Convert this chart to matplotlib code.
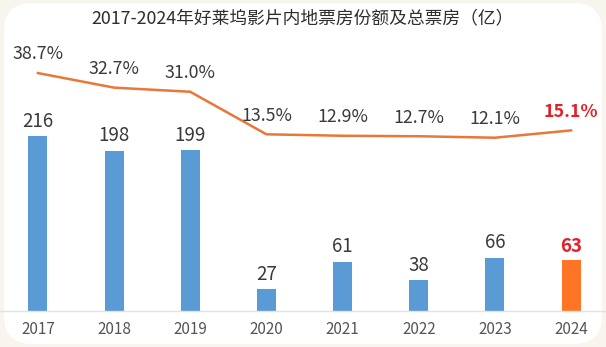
import matplotlib
matplotlib.use("Agg")
import matplotlib.pyplot as plt
from matplotlib.patches import FancyBboxPatch

plt.rcParams['font.family'] = ['Noto Sans CJK SC', 'DejaVu Sans']

years = ["2017", "2018", "2019", "2020", "2021", "2022", "2023", "2024"]
box_office = [216, 198, 199, 27, 61, 38, 66, 63]       # 亿
share = [38.7, 32.7, 31.0, 13.5, 12.9, 12.7, 12.1, 15.1]  # %

BLUE = "#5B9BD5"
ORANGE = "#FF7425"
LINE = "#E8773A"
RED = "#E3202A"
INK = "#3A3A3A"

W, H = 606, 347
fig = plt.figure(figsize=(W / 100, H / 100), dpi=100, facecolor="#F8F4EE")

# rounded white card behind everything
bg = fig.add_axes([0, 0, 1, 1], zorder=-5)
bg.set_xlim(0, W); bg.set_ylim(H, 0); bg.axis("off")
bg.add_patch(FancyBboxPatch((4, 3), W - 8, H - 6, boxstyle="round,pad=0,rounding_size=28",
                            fc="white", ec="none"))

x = list(range(len(years)))
ax = fig.add_axes([0, (H - 311) / H, 1, (311 - 40) / H])
ax.set_facecolor("none")
ax.set_xlim(-38 / 76.4, 7 + 35 / 76.4)
ax.set_ylim(0, 271 / 0.81)

colors = [BLUE] * (len(years) - 1) + [ORANGE]
ax.bar(x, box_office, width=0.25, color=colors, zorder=2)
for i, v in enumerate(box_office):
    last = i == len(years) - 1
    ax.annotate(str(v), (i, v), xytext=(0, 3), textcoords="offset points",
                ha="center", va="bottom", fontsize=13.5,
                color=RED if last else INK, fontweight="bold" if last else "normal")

for s in ["top", "right", "left"]:
    ax.spines[s].set_visible(False)
ax.spines["bottom"].set_color("#E2E2E2")
ax.spines["bottom"].set_linewidth(1.0)
ax.set_yticks([])
ax.set_xticks(x)
ax.set_xticklabels(years, fontsize=11, color="#555555")
ax.tick_params(axis="x", length=0, pad=7)

# share line on its own scale
ax2 = ax.twinx()
ax2.set_ylim(-59.2, 52.3)
ax2.axis("off")
ax2.plot(x, share, color=LINE, lw=1.8, zorder=3)
for i, v in enumerate(share):
    last = i == len(years) - 1
    ax2.annotate(f"{v:.1f}%", (i, v), xytext=(0, 7), textcoords="offset points",
                 ha="center", va="bottom", fontsize=12.8,
                 color=RED if last else INK, fontweight="bold" if last else "normal")

fig.text(0.5, 1 - 18 / H, "2017-2024年好莱坞影片内地票房份额及总票房（亿）",
         ha="center", va="center", fontsize=12.8, color="#2E2E2E")

fig.savefig("out.png", dpi=100, facecolor=fig.get_facecolor())
